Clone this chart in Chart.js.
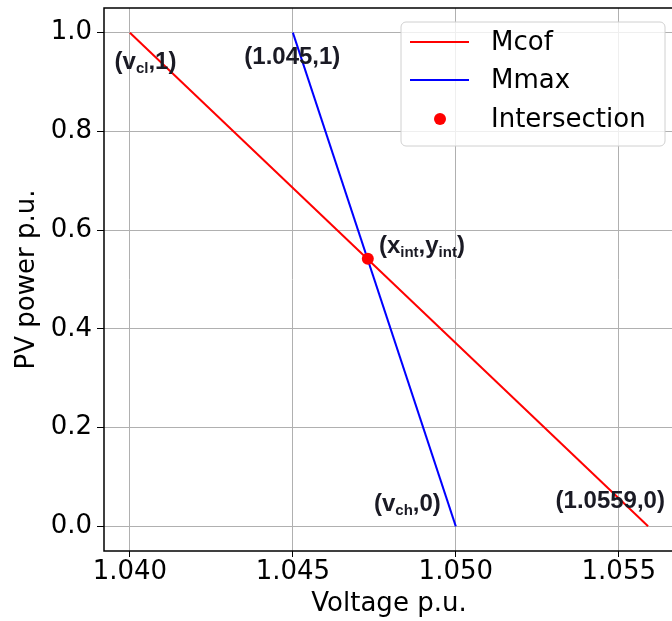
<!DOCTYPE html>
<html>
<head>
<meta charset="utf-8">
<script src="https://cdn.jsdelivr.net/npm/chart.js@4/dist/chart.umd.min.js"></script>
<style>
    html, body { margin: 0; padding: 0; background: #fff; overflow: hidden; width: 672px; height: 621px; }
    #wrap { position: absolute; left: 0; top: 0; width: 680px; height: 621px; }
</style>
</head>
<body>
<div id="wrap"><canvas id="pvChart" width="680" height="621"></canvas></div>
<script>
// Data
const mcofVoltage = [1.040, 1.0559];
const mcofPower = [1, 0];
const mmaxVoltage = [1.045, 1.050];
const mmaxPower = [1, 0];
const intVoltage = [1.0473];
const intPower = [0.542];

const xTicks = [1.040, 1.045, 1.050, 1.055];
const yTicks = [0.0, 0.2, 0.4, 0.6, 0.8, 1.0];

const legendLabels = ['Mcof', 'Mmax', 'Intersection'];

// point labels: [voltage, power, pieces of text (text, isSubscript)]
const pointLabels = [
    [1.03953, 0.926, [['(v', false], ['cl', true], [',1)', false]]],
    [1.04351, 0.936, [['(1.045,1)', false]]],
    [1.04764, 0.554, [['(x', false], ['int', true], [',y', false], ['int', true], [')', false]]],
    [1.04749, 0.032, [['(v', false], ['ch', true], [',0)', false]]],
    [1.05306, 0.038, [['(1.0559,0)', false]]]
];

const toXY = (xs, ys) => xs.map((x, i) => ({ x: x, y: ys[i] }));

Chart.defaults.font.family = "'DejaVu Sans', sans-serif";
Chart.defaults.color = '#000';

// frame, labels and legend drawn on top of the chart area
const extrasPlugin = {
    id: 'extras',
    afterDatasetsDraw(chart) {
        const { ctx, chartArea, scales } = chart;
        ctx.save();

        // text labels
        ctx.fillStyle = '#1a1a24';
        ctx.textBaseline = 'alphabetic';
        ctx.textAlign = 'left';
        pointLabels.forEach(([vx, vy, parts]) => {
            let px = scales.x.getPixelForValue(vx);
            const py = scales.y.getPixelForValue(vy);
            parts.forEach(([txt, sub]) => {
                ctx.font = sub ? "bold 15px 'Liberation Sans'" : "bold 24px 'Liberation Sans'";
                ctx.fillText(txt, px, sub ? py + 4 : py);
                px += ctx.measureText(txt).width;
            });
        });

        // axes frame
        ctx.strokeStyle = '#000';
        ctx.lineWidth = 1.5;
        ctx.strokeRect(chartArea.left, chartArea.top, chartArea.right - chartArea.left, chartArea.bottom - chartArea.top);

        // legend box
        const bx = 401, by = 22, bw = 264, bh = 124;
        ctx.beginPath();
        ctx.roundRect(bx, by, bw, bh, 5);
        ctx.fillStyle = 'rgba(255,255,255,0.8)';
        ctx.fill();
        ctx.strokeStyle = '#d0d0d0';
        ctx.lineWidth = 1;
        ctx.stroke();

        const rows = [42, 80, 119];
        ctx.font = "26px 'DejaVu Sans'";
        ctx.textBaseline = 'middle';
        chart.data.datasets.forEach((ds, i) => {
            const ry = rows[i];
            if (ds.showLine) {
                ctx.strokeStyle = ds.borderColor;
                ctx.lineWidth = 2;
                ctx.beginPath();
                ctx.moveTo(410, ry);
                ctx.lineTo(469, ry);
                ctx.stroke();
            } else {
                ctx.fillStyle = ds.backgroundColor;
                ctx.beginPath();
                ctx.arc(440, ry, 6, 0, Math.PI * 2);
                ctx.fill();
            }
            ctx.fillStyle = '#000';
            ctx.fillText(ds.label, 491, ry + 1);
        });
        ctx.restore();
    }
};

new Chart(document.getElementById('pvChart'), {
    type: 'scatter',
    data: {
        datasets: [
            {
                label: legendLabels[0],
                data: toXY(mcofVoltage, mcofPower),
                showLine: true,
                borderColor: '#ff0000',
                backgroundColor: '#ff0000',
                borderWidth: 2,
                pointRadius: 0,
                order: 3
            },
            {
                label: legendLabels[1],
                data: toXY(mmaxVoltage, mmaxPower),
                showLine: true,
                borderColor: '#0000ff',
                backgroundColor: '#0000ff',
                borderWidth: 2,
                pointRadius: 0,
                order: 2
            },
            {
                label: legendLabels[2],
                data: toXY(intVoltage, intPower),
                showLine: false,
                backgroundColor: '#ff0000',
                borderColor: '#ff0000',
                borderWidth: 0,
                pointRadius: 6,
                order: 1
            }
        ]
    },
    options: {
        responsive: false,
        animation: false,
        layout: { padding: { left: 0, top: 8, right: 1, bottom: 0 } },
        plugins: {
            legend: { display: false },
            tooltip: { enabled: false }
        },
        scales: {
            x: {
                type: 'linear',
                min: 1.039205,
                max: 1.056695,
                afterBuildTicks: (s) => { s.ticks = xTicks.map(v => ({ value: v })); },
                afterFit: (s) => {
                    s.height = 70;
                    s.paddingLeft = 0;
                    s.paddingRight = 0;
                },
                ticks: {
                    callback: (v) => v.toFixed(3),
                    font: { size: 26 },
                    color: '#000',
                    padding: 0,
                    maxRotation: 0
                },
                grid: { color: '#b0b0b0', lineWidth: 1, tickColor: '#000', tickLength: 6 },
                border: { display: false },
                title: {
                    display: true,
                    text: 'Voltage p.u.',
                    font: { size: 26 },
                    color: '#000',
                    padding: { top: 0, bottom: 1 }
                }
            },
            y: {
                type: 'linear',
                min: -0.05,
                max: 1.05,
                afterBuildTicks: (s) => { s.ticks = yTicks.map(v => ({ value: v })); },
                afterFit: (s) => {
                    s.width = 104;
                    s.paddingTop = 0;
                    s.paddingBottom = 0;
                },
                ticks: {
                    callback: (v) => v.toFixed(1),
                    font: { size: 26 },
                    color: '#000',
                    padding: 5
                },
                grid: { color: '#b0b0b0', lineWidth: 1, tickColor: '#000', tickLength: 7 },
                border: { display: false },
                title: {
                    display: true,
                    text: 'PV power p.u.',
                    font: { size: 26 },
                    color: '#000',
                    padding: { top: 12, bottom: 0 }
                }
            }
        }
    },
    plugins: [extrasPlugin]
});
</script>
</body>
</html>
